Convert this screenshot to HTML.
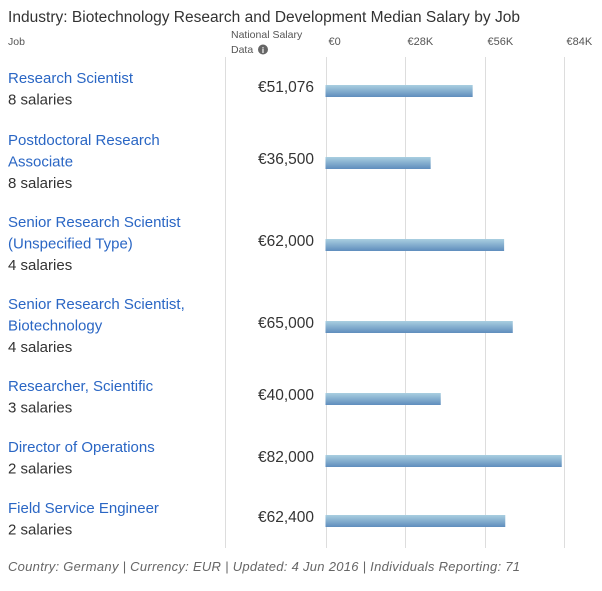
<!DOCTYPE html>
<html><head><meta charset="utf-8"><style>
body{margin:0;background:#fff;width:602px;height:586px;overflow:hidden;font-family:"Liberation Sans",sans-serif}
</style></head><body>
<svg width="602" height="586" xmlns="http://www.w3.org/2000/svg">
<defs><linearGradient id="bg" x1="0" y1="0" x2="0" y2="1"><stop offset="0" stop-color="#a9cfe0"/><stop offset="1" stop-color="#5f8dbd"/></linearGradient></defs>
<text x="8" y="22" font-size="15.5" fill="#333" textLength="512">Industry: Biotechnology Research and Development Median Salary by Job</text>
<text x="8" y="45" font-size="10.5" fill="#555">Job</text>
<text x="231" y="38" font-size="10.5" fill="#555">National Salary</text>
<text x="231" y="53" font-size="10.5" fill="#555">Data</text>
<circle cx="263" cy="49.5" r="5" fill="#666"/>
<text x="263" y="53" font-size="8" fill="#fff" text-anchor="middle" font-weight="bold">i</text>
<line x1="225.5" y1="57" x2="225.5" y2="548" stroke="#ddd"/>
<g id="grid"></g><g id="rows"></g>
<text x="8" y="571" font-size="13" font-style="italic" fill="#666" textLength="512">Country: Germany | Currency: EUR | Updated: 4 Jun 2016 | Individuals Reporting: 71</text>
</svg>
<script>
const jobs=[["Research Scientist"],["Postdoctoral Research","Associate"],["Senior Research Scientist","(Unspecified Type)"],["Senior Research Scientist,","Biotechnology"],["Researcher, Scientific"],["Director of Operations"],["Field Service Engineer"]];
const counts=["8 salaries","8 salaries","4 salaries","4 salaries","3 salaries","2 salaries","2 salaries"];
const values=[51076,36500,62000,65000,40000,82000,62400];
const labels=["€51,076","€36,500","€62,000","€65,000","€40,000","€82,000","€62,400"];
const ticks=[0,28000,56000,84000];
const tickLabels=["€0","€28K","€56K","€84K"];
const NS="http://www.w3.org/2000/svg";
const x=v=>325.5+v*(242/84000);
const centers=[91,163,245,327,399,461,521];
const firstLine=[83,145,227,309,391,452,513];
function mk(t,a,p){const e=document.createElementNS(NS,t);for(const k in a)e.setAttribute(k,a[k]);p.appendChild(e);return e;}
const g=document.getElementById('grid'),r=document.getElementById('rows');
ticks.forEach((t,i)=>{
 const gx=Math.round(325.5+i*79.6)+.5;
 const l=mk('line',{x1:gx,x2:gx,y1:57,y2:548,stroke:'#ddd'},g);
 
 
 const tx=mk('text',{x:gx+2,y:45,'font-size':11,fill:'#555'},g);tx.textContent=tickLabels[i];
 
 
});
values.forEach((v,i)=>{
 let y=firstLine[i];
 jobs[i].forEach(s=>{const t=mk('text',{x:8,y:y,'font-size':15,fill:'#2a66c4'},r);t.textContent=s;
  
  
  y+=21.5;});
 const c=mk('text',{x:8,y:y,'font-size':15,fill:'#333'},r);c.textContent=counts[i];
 
 
 const vt=mk('text',{x:314,y:centers[i]+1,'font-size':15.5,fill:'#333','text-anchor':'end'},r);vt.textContent=labels[i];
 
 
 const b=mk('rect',{x:x(0),y:centers[i]-6,width:x(v)-x(0),height:12,fill:'url(#bg)'},r);
 
 
});
</script>
</body></html>
